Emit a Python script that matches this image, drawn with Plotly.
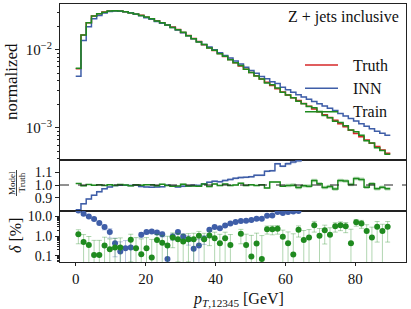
import plotly.graph_objects as go

# ---------------- data ----------------
bin_width = 1.5
n_bins = 60
edges = [bin_width * i for i in range(n_bins + 1)]
centers = [bin_width * (i + 0.5) for i in range(n_bins)]

truth = [0.00569, 0.0154, 0.0220, 0.0269, 0.0287, 0.0302, 0.0311, 0.0314, 0.0311, 0.0305,
         0.0296, 0.0284, 0.0274, 0.0260, 0.0248, 0.0233, 0.0220, 0.0207, 0.0194, 0.0181,
         0.01656, 0.01514, 0.01384, 0.01265, 0.01156, 0.01059, 0.00971, 0.00889, 0.00815, 0.00746,
         0.00679, 0.00617, 0.00561, 0.00509, 0.00463, 0.00421, 0.00383, 0.00348, 0.00316, 0.00288,
         0.00263, 0.00242, 0.00223, 0.00205, 0.00189, 0.00174, 0.00160, 0.00147, 0.00136, 0.00125,
         0.00113, 0.00103, 0.000933, 0.000847, 0.000769, 0.000698, 0.000634, 0.000575, 0.000522, 0.000474]

inn_ratio = [0.805, 0.852, 0.890, 0.920, 0.948, 0.970, 0.984, 0.9956, 0.998, 0.9975,
             0.997, 0.999, 0.988, 0.984, 0.983, 0.985, 0.987, 0.999, 0.990, 0.984,
             0.990, 0.993, 0.998, 0.997, 1.007, 1.021, 1.029, 1.025, 1.035, 1.044,
             1.052, 1.058, 1.060, 1.065, 1.076, 1.076, 1.108, 1.112, 1.166, 1.148,
             1.166, 1.180, 1.190, 1.210, 1.230, 1.250, 1.270, 1.290, 1.310, 1.330,
             1.350, 1.380, 1.410, 1.440, 1.470, 1.500, 1.530, 1.570, 1.630, 1.690]

train_ratio = [1.012, 0.995, 1.004, 0.999, 1.001, 0.997, 1.002, 0.997, 1.003, 1.000,
               0.994, 1.002, 0.999, 1.002, 1.001, 0.994, 1.005, 0.997, 0.991, 0.993,
               1.005, 0.993, 0.993, 0.990, 1.007, 0.989, 1.008, 0.996, 1.008, 0.996,
               1.000, 1.013, 0.996, 1.001, 0.996, 1.001, 0.977, 1.023, 1.024, 0.991,
               0.996, 0.999, 0.980, 0.994, 0.991, 1.036, 1.010, 0.980, 0.988, 0.968,
               1.036, 1.032, 1.004, 1.051, 1.044, 0.982, 1.009, 0.970, 0.982, 0.970]

inn_unc = [0.006] * 20 + [0.008] * 20 + [0.012] * 20
train_unc = [0.004] * 20 + [0.006] * 20 + [0.014] * 20

inn_delta = [20.2, 13.7, 10.0, 7.3, 4.6, 2.87, 1.6, 0.44, 0.166, 0.245,
             0.265, None, 1.17, 1.6, 1.73, 1.54, 1.26, 0.07, 0.96, 1.6,
             0.96, 0.7, 0.227, 0.335, 0.73, 2.1, 2.87, 2.55, 3.5, 4.4,
             5.2, 5.8, 6.0, 6.5, 7.6, 7.6, 10.8, 11.2, 16.6, 14.8,
             16.6, 18.0, 19.0, None, None, None, None, None, None, None,
             None, None, None, None, None, None, None, None, None, None]
inn_delta_err = [0.8] * 7 + [0.35] * 24 + [0.6] * 29

train_delta = [1.26, 0.5, 0.36, 0.112, 0.112, 0.335, 0.22, 0.265, 0.265, None,
               0.65, 0.245, 0.12, 0.245, 0.082, 0.63, 0.46, 0.335, 0.86, 0.70,
               0.54, 0.70, 0.70, 1.04, 0.70, 1.08, 0.79, 0.44, 0.79, 0.36,
               None, 1.31, 0.36, 0.093, 0.42, 0.07, 2.27, 2.27, 2.36, 0.92,
               0.44, 0.117, 2.1, 0.63, 0.86, 3.6, 1.04, 2.0, 1.17, 3.2,
               3.6, 3.2, 0.44, 5.1, 4.4, 1.8, 0.86, 3.0, 1.8, 3.0]
train_delta_err = [0.85, 0.7, 0.6, 0.5, 0.5, 0.55, 0.5, 0.5, 0.55, 0.6,
                   0.6, 0.6, 0.6, 0.6, 0.6, 0.6, 0.6, 0.65, 0.6, 0.65,
                   0.7, 0.65, 0.7, 0.7, 0.7, 0.75, 0.8, 0.8, 0.8, 0.85,
                   0.9, 0.9, 0.9, 1.0, 1.0, 1.0, 1.0, 1.1, 1.1, 1.1,
                   1.2, 1.2, 1.2, 1.3, 1.3, 2.0, 1.4, 1.6, 1.5, 1.6,
                   1.7, 1.7, 1.8, 1.9, 1.9, 2.0, 2.0, 2.5, 2.2, 2.5]

x_ticks = [0, 20, 40, 60, 80]
top_tickvals = [1e-3, 1e-2]
top_ticktext = ["10<sup>−3</sup>", "10<sup>−2</sup>"]
ratio_tickvals = [0.9, 1.0, 1.1]
ratio_ticktext = ["0.9", "1.0", "1.1"]
delta_tickvals = [0.1, 1, 10]
delta_ticktext = ["0.1", "1.0", "10.0"]

# ---------------- style ----------------
RED = "#d62728"
BLUE = "#3f5ea8"
GREEN = "#1f8a1f"
FONT = "Liberation Serif"
AX = "#222222"

inn = [t * r for t, r in zip(truth, inn_ratio)]
train = [t * r for t, r in zip(truth, train_ratio)]


def step(vals):
    return edges, list(vals) + [vals[-1]]


fig = go.Figure()


def add_band(lo, hi, color, xa, ya):
    x, ylo = step(lo)
    _, yhi = step(hi)
    fig.add_trace(go.Scatter(x=x, y=ylo, mode="lines", line=dict(width=0, shape="hv"),
                             xaxis=xa, yaxis=ya, showlegend=False, hoverinfo="skip"))
    fig.add_trace(go.Scatter(x=x, y=yhi, mode="lines", line=dict(width=0, shape="hv"),
                             fill="tonexty", fillcolor=color,
                             xaxis=xa, yaxis=ya, showlegend=False, hoverinfo="skip"))


def add_step(vals, color, xa, ya, width=1.5):
    x, y = step(vals)
    fig.add_trace(go.Scatter(x=x, y=y, mode="lines", line=dict(color=color, width=width, shape="hv"),
                             xaxis=xa, yaxis=ya, showlegend=False))


# top panel
add_band([t * (1 - u) for t, u in zip(truth, train_unc)], [t * (1 + u) for t, u in zip(truth, train_unc)],
         "rgba(214,39,40,0.25)", "x", "y")
add_band([t * (1 - u) for t, u in zip(inn, inn_unc)], [t * (1 + u) for t, u in zip(inn, inn_unc)],
         "rgba(63,94,168,0.3)", "x", "y")
add_band([t * (1 - u) for t, u in zip(train, train_unc)], [t * (1 + u) for t, u in zip(train, train_unc)],
         "rgba(31,138,31,0.3)", "x", "y")
add_step(truth, RED, "x", "y")
add_step(inn, BLUE, "x", "y")
add_step(train, GREEN, "x", "y")

# ratio panel
add_band([r - u for r, u in zip(inn_ratio, inn_unc)], [r + u for r, u in zip(inn_ratio, inn_unc)],
         "rgba(63,94,168,0.3)", "x2", "y2")
add_band([r - u for r, u in zip(train_ratio, train_unc)], [r + u for r, u in zip(train_ratio, train_unc)],
         "rgba(31,138,31,0.3)", "x2", "y2")
add_step(inn_ratio, BLUE, "x2", "y2")
add_step(train_ratio, GREEN, "x2", "y2")

# delta panel
fig.add_trace(go.Scatter(x=centers, y=inn_delta, mode="markers",
                         marker=dict(color=BLUE, size=6),
                         error_y=dict(type="data", array=inn_delta_err, color="rgba(63,94,168,0.35)",
                                      thickness=1, width=2.5),
                         xaxis="x3", yaxis="y3", showlegend=False, cliponaxis=True))
fig.add_trace(go.Scatter(x=centers, y=train_delta, mode="markers",
                         marker=dict(color=GREEN, size=6),
                         error_y=dict(type="data", array=train_delta_err, color="rgba(31,138,31,0.35)",
                                      thickness=1, width=2.5),
                         xaxis="x3", yaxis="y3", showlegend=False, cliponaxis=True))

# ---------------- layout ----------------
L, R, T, B = 60, 5, 4, 47
W, H = 411, 309
ph = H - T - B


def fy(py):
    return (H - B - py) / ph


def fx(px):
    return (px - L) / (W - L - R)


d_top = [fy(159.5), 1]
d_rat = [fy(210.5), fy(159.5)]
d_del = [0, fy(210.5)]

common_x = dict(range=[-4.5, 94.5], showline=True, mirror=True, linecolor=AX, linewidth=1,
                showgrid=False, zeroline=False, ticks="", showticklabels=False)
common_y = dict(showline=True, mirror=True, linecolor=AX, linewidth=1, showgrid=False, zeroline=False,
                ticks="outside", ticklen=4, tickcolor=AX, tickfont=dict(family=FONT, size=15, color="#111"))

minor_top = [k * 10 ** e for e in (-4, -3, -2) for k in range(2, 10)]
minor_del = [k * 10 ** e for e in (-2, -1, 0, 1) for k in range(2, 10)]

fig.update_layout(
    width=W, height=H, margin=dict(l=L, r=R, t=T, b=B),
    paper_bgcolor="white", plot_bgcolor="white",
    font=dict(family=FONT, size=15, color="#111"),
    xaxis=dict(common_x, anchor="y", domain=[0, 1]),
    xaxis2=dict(common_x, anchor="y2", matches="x", domain=[0, 1]),
    xaxis3=dict(common_x, anchor="y3", matches="x", domain=[0, 1], showticklabels=True,
                ticks="outside", ticklen=3, tickcolor=AX, tickvals=x_ticks,
                tickfont=dict(family=FONT, size=15, color="#111")),
    yaxis=dict(common_y, anchor="x", domain=d_top, type="log", range=[-3.405, -1.417],
               tickvals=top_tickvals, ticktext=top_ticktext,
               minor=dict(tickvals=minor_top, ticks="outside", ticklen=2, tickcolor=AX)),
    yaxis2=dict(common_y, anchor="x2", domain=d_rat, range=[0.8, 1.2],
                tickvals=ratio_tickvals, ticktext=ratio_ticktext,
                tickfont=dict(family=FONT, size=14, color="#111")),
    yaxis3=dict(common_y, anchor="x3", domain=d_del, type="log", range=[-1.31, 1.30],
                tickvals=delta_tickvals, ticktext=delta_ticktext,
                tickfont=dict(family=FONT, size=14, color="#111"),
                minor=dict(tickvals=minor_del, ticks="outside", ticklen=2, tickcolor=AX)),
)

shapes = []
shapes.append(dict(type="rect", xref="x3 domain", yref="y3", x0=0, x1=1, y0=-1.31, y1=0,
                   fillcolor="rgba(200,200,200,0.45)", line=dict(width=0), layer="below"))
shapes.append(dict(type="line", xref="x3 domain", yref="y3", x0=0, x1=1, y0=0, y1=0,
                   line=dict(color="#777", width=1, dash="dash")))
shapes.append(dict(type="line", xref="x2 domain", yref="y2", x0=0, x1=1, y0=1, y1=1,
                   line=dict(color="#222", width=1, dash="dash")))
for yy, col in [(65, RED), (88.3, BLUE), (111.7, GREEN)]:
    shapes.append(dict(type="line", xref="paper", yref="paper", x0=fx(305), x1=fx(338),
                       y0=fy(yy), y1=fy(yy), line=dict(color=col, width=1.5)))
shapes.append(dict(type="line", xref="paper", yref="paper", x0=fx(16.5), x1=fx(16.5),
                   y0=fy(196), y1=fy(170), line=dict(color="#111", width=0.8)))
fig.update_layout(shapes=shapes)


def label(text, px, py, size, angle=0, xanchor="center"):
    return dict(text=text, x=fx(px), y=fy(py), xref="paper", yref="paper",
                xanchor=xanchor, yanchor="middle", textangle=angle, showarrow=False,
                font=dict(family=FONT, size=size, color="#111"))


ann = [label("Z + jets inclusive", 401, 17, 16, xanchor="right")]
for yy, name in [(65, "Truth"), (88.3, "INN"), (111.7, "Train")]:
    ann.append(label(name, 351, yy, 16, xanchor="left"))
ann.append(label("normalized", 11, 81, 17, angle=-90))
ann.append(label("Model", 12, 183, 9, angle=-90))
ann.append(label("Truth", 21.5, 183, 9, angle=-90))
ann.append(label("<i>δ</i> [%]", 15, 236, 16, angle=-90))
ann.append(label("<i>p</i><sub><i>T</i>,12345</sub> [GeV]", 238, 299, 16))
fig.update_layout(annotations=ann)

fig.write_html("out.html", config={"displayModeBar": False},
               post_script="document.body.style.margin='0';")
